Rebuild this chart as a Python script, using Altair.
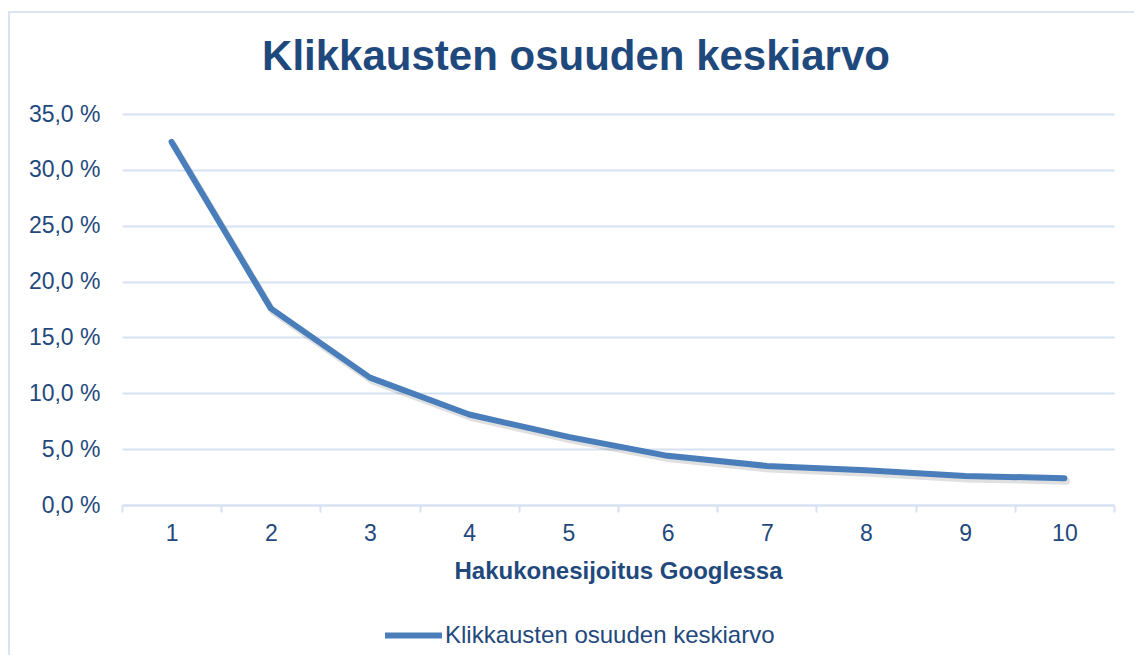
import altair as alt
import pandas as pd

positions = [1, 2, 3, 4, 5, 6, 7, 8, 9, 10]
values = [32.5, 17.6, 11.4, 8.1, 6.1, 4.4, 3.5, 3.1, 2.6, 2.4]
series_name = "Klikkausten osuuden keskiarvo"
y_ticks = [0, 5, 10, 15, 20, 25, 30, 35]

df = pd.DataFrame({"pos": positions, "val": values, "series": [series_name] * len(positions)})

TEXT = "#1F497D"
GRID = "#D6E2F2"
LINE = "#4A7EBB"
FONT = "Liberation Sans"

x_enc = alt.X(
    "pos:O",
    bandPosition=0.5,
    scale=alt.Scale(type="band", paddingInner=0, paddingOuter=0),
    axis=alt.Axis(
        title="Hakukonesijoitus Googlessa",
        labelAngle=0,
        tickBand="extent",
        tickSize=7,
        tickWidth=2,
        tickColor=GRID,
        domainColor=GRID,
        domainWidth=2,
        labelFontSize=23,
        labelColor=TEXT,
        labelFont=FONT,
        labelPadding=10,
        titleFont=FONT,
        titleFontSize=24,
        titleFontWeight="bold",
        titleColor=TEXT,
        titlePadding=14,
        grid=False,
    ),
)
y_enc = alt.Y(
    "val:Q",
    scale=alt.Scale(domain=[0, 35], nice=False),
    axis=alt.Axis(
        title=None,
        values=y_ticks,
        labelExpr="replace(format(datum.value, '.1f'), '.', ',') + ' %'",
        grid=True,
        gridColor=GRID,
        gridWidth=2,
        domain=False,
        ticks=False,
        labelPadding=22,
        labelFontSize=23,
        labelColor=TEXT,
        labelFont=FONT,
    ),
)

border = alt.Chart(pd.DataFrame({"a": [0]})).mark_rect(
    fill="transparent", stroke="#D9E3F1", strokeWidth=2
).encode(
    x=alt.value(-113), x2=alt.value(1200), y=alt.value(-102), y2=alt.value(700)
)

shadow = alt.Chart(df).mark_line(
    color="#000000", opacity=0.12, strokeWidth=7, xOffset=2, yOffset=3,
    strokeCap="round", strokeJoin="round"
).encode(x=x_enc, y=y_enc)

line = alt.Chart(df).mark_line(
    strokeWidth=6, strokeCap="round", strokeJoin="round"
).encode(
    x=x_enc,
    y=y_enc,
    color=alt.Color(
        "series:N",
        scale=alt.Scale(range=[LINE]),
        legend=alt.Legend(
            title=None,
            orient="none",
            legendX=260,
            legendY=490,
            symbolType="stroke",
            symbolSize=3249,
            symbolStrokeWidth=6,
            labelFontSize=24,
            labelColor=TEXT,
            labelFont=FONT,
            labelOffset=0,
            labelLimit=600,
        ),
    ),
)

chart = alt.layer(border, shadow, line).properties(
    width=992,
    height=391,
    autosize=alt.AutoSizeParams(type="none"),
    padding={"left": 114, "top": 106, "right": 20, "bottom": 150},
    title=alt.TitleParams(
        text="Klikkausten osuuden keskiarvo",
        font=FONT,
        fontSize=42,
        fontWeight="bold",
        color=TEXT,
        anchor="middle",
        frame="group",
        dx=-42,
        offset=-68,
    ),
).configure_view(stroke=None)

chart.save("out.html", embed_options={"renderer": "svg", "actions": False})
